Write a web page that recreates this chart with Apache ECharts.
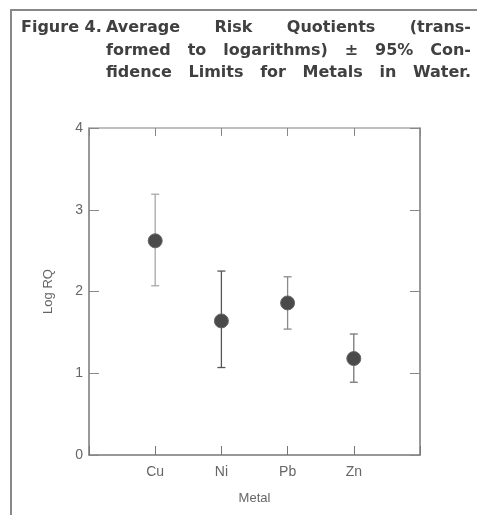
<!DOCTYPE html>
<html><head><meta charset="utf-8">
<script src="https://cdn.jsdelivr.net/npm/echarts@6/dist/echarts.min.js"></script>
<style>html,body{margin:0;padding:0;background:#fff}#c{width:477px;height:515px}</style>
</head><body><div id="c"></div>
<script>
const categories = ['Cu', 'Ni', 'Pb', 'Zn'];
const meanLogRQ = [2.62, 1.64, 1.86, 1.18];
const lowerLimit = [2.07, 1.07, 1.54, 0.89];
const upperLimit = [3.19, 2.25, 2.18, 1.48];
const yTicks = [0, 1, 2, 3, 4];
const titleLines = [
  'Average Risk Quotients (trans-',
  'formed to logarithms) \u00b1 95% Con-',
  'fidence Limits for Metals in Water.'
];
const titleLead = 'Figure 4.';
const barColors = ['#a8a8a8', '#555', '#8a8a8a', '#777'];

const chart = echarts.init(document.getElementById('c'), null, {renderer: 'canvas'});
const font = 'bold 16px "DejaVu Sans", sans-serif';
const cv = document.createElement('canvas').getContext('2d');
cv.font = font;
const graphics = [
  {type: 'line', shape: {x1: 11, y1: 10, x2: 11, y2: 515}, style: {stroke: '#888', lineWidth: 2}},
  {type: 'line', shape: {x1: 10, y1: 10, x2: 477, y2: 10}, style: {stroke: '#888', lineWidth: 2}},
  {type: 'text', x: 21, y: 20, style: {text: titleLead, font: font, fill: '#404040'}}
];
const L = 106, R = 471;
titleLines.forEach((line, i) => {
  const words = line.split(' ');
  const widths = words.map(w => cv.measureText(w).width);
  const total = widths.reduce((a, b) => a + b, 0);
  const gap = (R - L - total) / (words.length - 1);
  let x = L;
  words.forEach((w, j) => {
    graphics.push({type: 'text', x: x, y: 20 + i * 22.5, style: {text: w, font: font, fill: '#404040'}});
    x += widths[j] + gap;
  });
});

const catIdx = categories.map((c, i) => i + 1);
const lbl = {color: '#666', fontFamily: 'Liberation Sans'};
chart.setOption({
  animation: false,
  backgroundColor: '#fff',
  grid: {left: 89, top: 128, right: 57, bottom: 60},
  graphic: graphics,
  xAxis: [{
    type: 'value', min: 0, max: 5, interval: 1, position: 'bottom',
    name: 'Metal', nameLocation: 'middle', nameGap: 37,
    nameTextStyle: Object.assign({fontSize: 13}, lbl),
    axisLine: {show: true, onZero: false, lineStyle: {color: '#777', width: 1.5}},
    axisTick: {show: true, inside: true, length: 9, lineStyle: {color: '#777'}},
    axisLabel: Object.assign({fontSize: 14, margin: 10,
      formatter: v => (v >= 1 && v <= categories.length) ? categories[v - 1] : ''}, lbl),
    splitLine: {show: false}
  }, {
    type: 'value', min: 0, max: 5, interval: 1, position: 'top',
    axisLine: {show: true, onZero: false, lineStyle: {color: '#aaa', width: 1.5}},
    axisTick: {show: true, inside: true, length: 8, lineStyle: {color: '#888'}},
    axisLabel: {show: false}, splitLine: {show: false}
  }],
  yAxis: [{
    type: 'value', min: 0, max: 4, interval: 1, position: 'left',
    name: 'Log RQ', nameLocation: 'middle', nameGap: 34,
    nameTextStyle: Object.assign({fontSize: 13}, lbl),
    axisLine: {show: true, onZero: false, lineStyle: {color: '#777', width: 1.5}},
    axisTick: {show: true, inside: true, length: 10, lineStyle: {color: '#888'}},
    axisLabel: Object.assign({fontSize: 14, margin: 6}, lbl),
    splitLine: {show: false}
  }, {
    type: 'value', min: 0, max: 4, interval: 1, position: 'right',
    axisLine: {show: true, onZero: false, lineStyle: {color: '#777', width: 1.5}},
    axisTick: {show: true, inside: true, length: 10, lineStyle: {color: '#888'}},
    axisLabel: {show: false}, splitLine: {show: false}
  }],
  series: [{
    type: 'custom',
    data: catIdx.map((x, i) => [x, lowerLimit[i], upperLimit[i], i]),
    renderItem: (params, api) => {
      const x = api.value(0);
      const lo = api.coord([x, api.value(1)]);
      const hi = api.coord([x, api.value(2)]);
      const c = barColors[api.value(3)];
      const hw = 4;
      const st = {stroke: c, lineWidth: 1.3};
      return {type: 'group', children: [
        {type: 'line', shape: {x1: lo[0], y1: lo[1], x2: hi[0], y2: hi[1]}, style: st},
        {type: 'line', shape: {x1: lo[0] - hw, y1: lo[1], x2: lo[0] + hw, y2: lo[1]}, style: st},
        {type: 'line', shape: {x1: hi[0] - hw, y1: hi[1], x2: hi[0] + hw, y2: hi[1]}, style: st}
      ]};
    },
    z: 2
  }, {
    type: 'scatter',
    data: catIdx.map((x, i) => [x, meanLogRQ[i]]),
    symbol: 'circle', symbolSize: 14,
    itemStyle: {color: '#4a4a4a', borderColor: '#666', borderWidth: 1, opacity: 1},
    z: 3
  }]
});
</script></body></html>
